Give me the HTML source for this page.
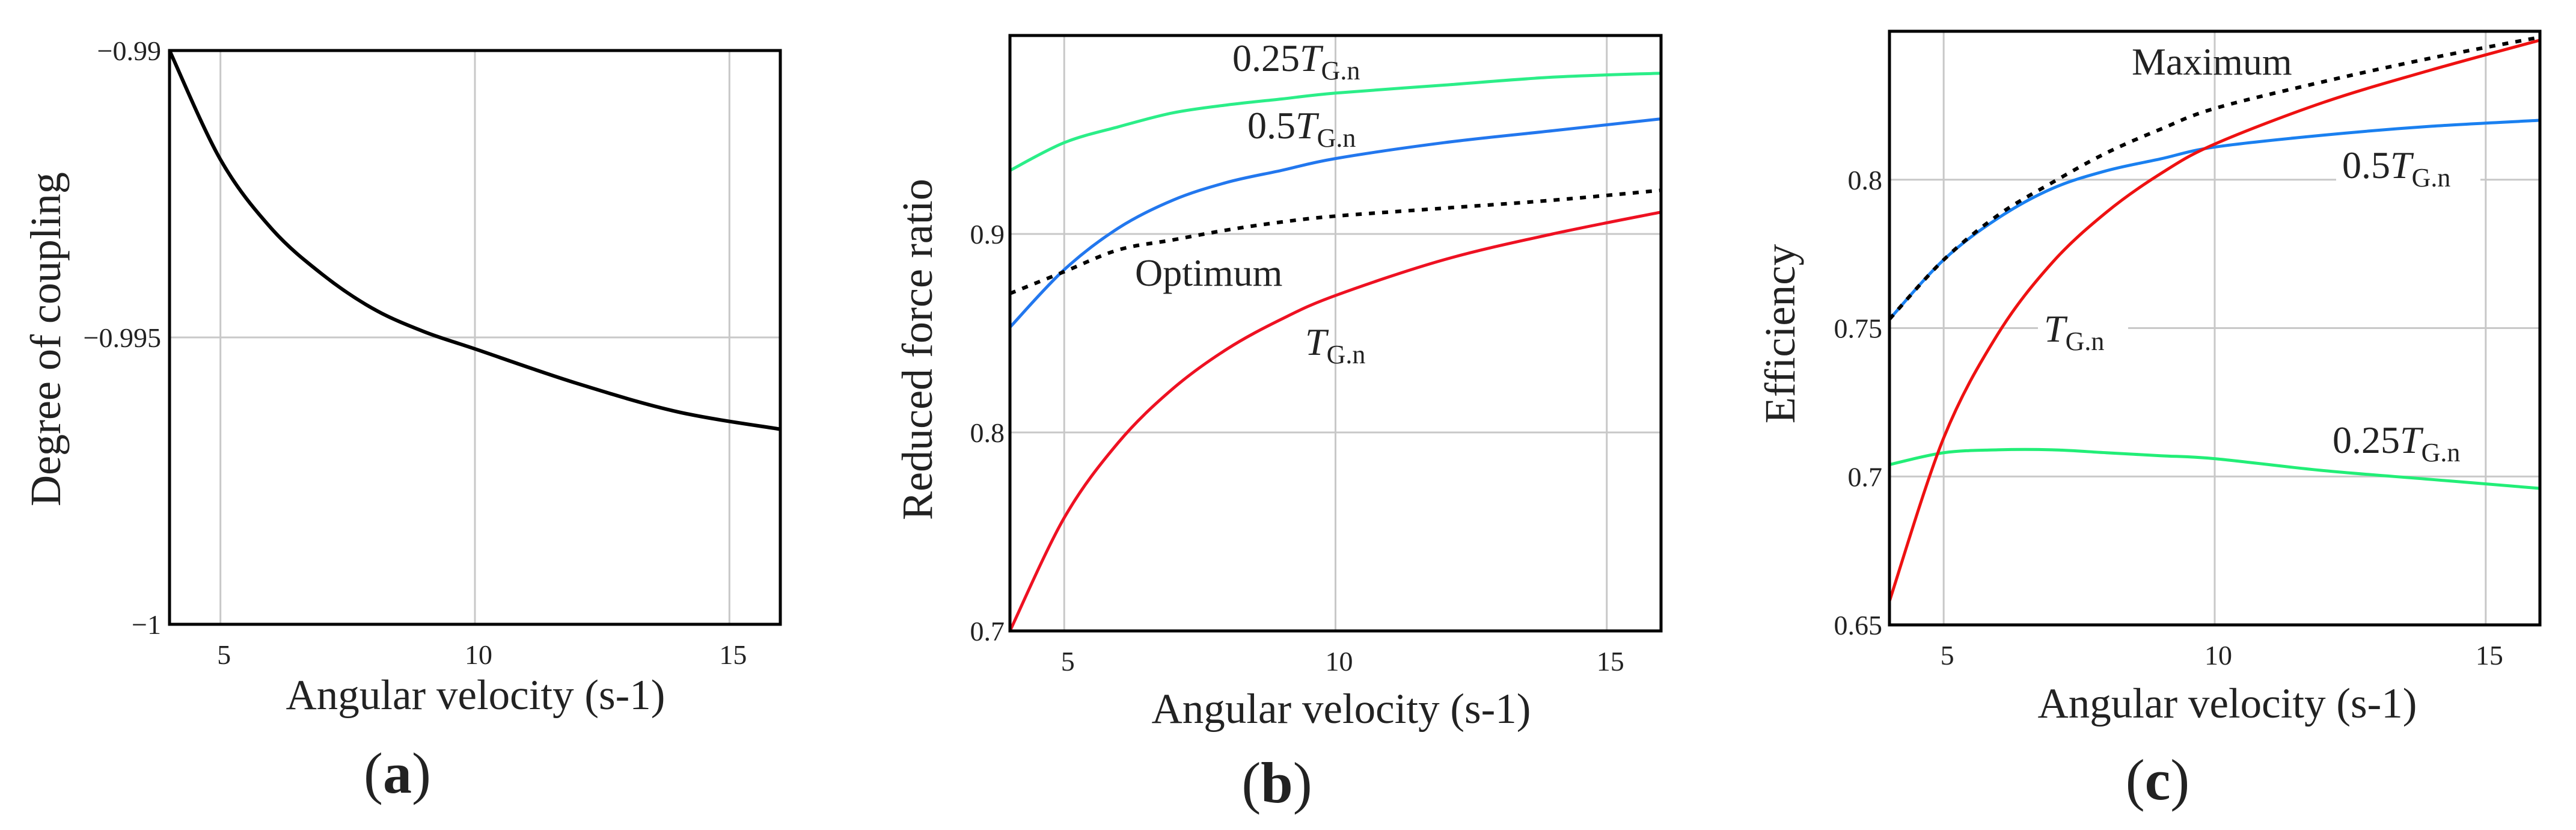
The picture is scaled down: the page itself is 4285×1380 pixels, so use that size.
<!DOCTYPE html>
<html><head><meta charset="utf-8"><style>
html,body{margin:0;padding:0;background:#fff}
svg{display:block}
text{font-family:"Liberation Serif",serif;fill:#222}
</style></head><body>
<svg id="fig" width="4285" height="1380" viewBox="0 0 4285 1380" xmlns="http://www.w3.org/2000/svg"></svg>
<script>
const xs = [4,5,6,7,8,9,10,12,14,16];
const aCoupling = [-0.99,-0.9919,-0.9931,-0.9939,-0.9945,-0.9949,-0.9952,-0.9958,-0.9963,-0.9966];
const bGreen = [0.932,0.946,0.954,0.961,0.965,0.968,0.971,0.975,0.979,0.981];
const bBlue = [0.853,0.882,0.903,0.917,0.926,0.932,0.938,0.946,0.952,0.958];
const bOpt = [0.870,0.881,0.892,0.897,0.902,0.906,0.909,0.913,0.917,0.922];
const bRed = [0.700,0.757,0.795,0.822,0.842,0.857,0.869,0.887,0.900,0.911];
const cRed = [0.658,0.713,0.748,0.772,0.789,0.802,0.812,0.826,0.837,0.847];
const cBlue = [0.753,0.773,0.787,0.797,0.803,0.807,0.811,0.815,0.818,0.820];
const cMax = [0.753,0.773,0.788,0.799,0.809,0.817,0.824,0.833,0.841,0.848];
const cGreen = [0.704,0.708,0.709,0.709,0.708,0.707,0.706,0.702,0.699,0.696];
const xTicks = [5,10,15];
const aYTicks = [-0.99,-0.995,-1];
const aYLabels = ["\u22120.99","\u22120.995","\u22121"];
const bYTicks = [0.7,0.8,0.9];
const bYLabels = ["0.7","0.8","0.9"];
const cYTicks = [0.65,0.7,0.75,0.8];
const cYLabels = ["0.65","0.7","0.75","0.8"];

const NS="http://www.w3.org/2000/svg";
const svg=document.getElementById('fig');
function mk(tag,attrs,parent){const e=document.createElementNS(NS,tag);for(const k in attrs)e.setAttribute(k,attrs[k]);(parent||svg).appendChild(e);return e;}

function panel(p){
  const g=mk('g',{});
  
  
  const X=v=>p.l+(v-4)/12*(p.r-p.l);
  const Y=v=>p.b-(v-p.ymin)/(p.ymax-p.ymin)*(p.b-p.t);
  xTicks.forEach(t=>{
    const ln=mk('line',{x1:X(t),x2:X(t),y1:p.t,y2:p.b,stroke:'#c8c8c8','stroke-width':3},g);
    
    
    const tx=mk('text',{x:X(t)+6,y:p.b+66,'font-size':46,'text-anchor':'middle'},g);
    tx.textContent=t;
    
    
  });
  p.yt.forEach((t,i)=>{
    const ln=mk('line',{x1:p.l,x2:p.r,y1:Y(t),y2:Y(t),stroke:'#c8c8c8','stroke-width':3},g);
    
    
    const tx=mk('text',{x:p.tl,y:Y(t)+16,'font-size':46,'text-anchor':'end'},g);
    tx.textContent=p.yl[i];
    
    
  });
  p.series.forEach(s=>{
    const pts=xs.map((x,i)=>[X(x),Y(s.v[i])]);
    let d='M'+pts[0][0]+','+pts[0][1];
    for(let i=0;i<pts.length-1;i++){
      const p0=pts[Math.max(0,i-1)],p1=pts[i],p2=pts[i+1],p3=pts[Math.min(pts.length-1,i+2)];
      const c1=[p1[0]+(p2[0]-p0[0])/6,p1[1]+(p2[1]-p0[1])/6];
      const c2=[p2[0]-(p3[0]-p1[0])/6,p2[1]-(p3[1]-p1[1])/6];
      d+=' C'+c1+' '+c2+' '+p2;
    }
    const a={d:d,fill:'none',stroke:s.c,'stroke-width':s.w||5};
    if(s.dash)a['stroke-dasharray']='10 12';
    const path=mk('path',a,g);
    
    
  });
  const fr=mk('rect',{x:p.l,y:p.t,width:p.r-p.l,height:p.b-p.t,fill:'none',stroke:'#000','stroke-width':5},g);
  
  
  const xt=mk('text',{x:p.xtx,y:p.xty,'font-size':71,'text-anchor':'middle'},g);
  xt.textContent='Angular velocity (s-1)';
  
  
  const yt=mk('text',{x:0,y:0,'font-size':72,'text-anchor':'middle',transform:'translate('+(p.ytx)+','+p.yty+') rotate(-90)'},g);
  yt.textContent=p.ytitle;
  
  
  const cap=mk('text',{x:p.capx,y:p.capy,'font-size':96,'text-anchor':'middle',fill:'#000'},g);
  cap.innerHTML='(<tspan font-weight="bold">'+p.cap+'</tspan>)';
  
  
  (p.labels||[]).forEach(L=>{
    if(L.bg){mk('rect',{x:L.x-10,y:L.y-56,width:L.w,height:80,fill:'#fff'},g);}
    const t=mk('text',{x:L.x,y:L.y,'font-size':64},g);
    t.innerHTML=(L.pre?L.pre:'')+(L.T?'<tspan font-style="italic">T</tspan><tspan font-size="44" dy="14">G.n</tspan>':'');
    
    
  });
}

panel({name:'panel-a-coupling',l:282,r:1298,t:84,b:1038,ymin:-1,ymax:-0.99,yt:aYTicks,yl:aYLabels,tl:268,
  series:[{v:aCoupling,c:'#000',w:6,n:'coupling-curve'}],ytitle:'Degree of coupling',ytx:100,yty:564,
  xtx:791,xty:1179,cap:'a',capx:661,capy:1318});

panel({name:'panel-b-force-ratio',l:1680,r:2763,t:59,b:1049,ymin:0.7,ymax:1.0,yt:bYTicks,yl:bYLabels,tl:1671,
  series:[{v:bGreen,c:'#2bee88',n:'series-0.25T'},{v:bBlue,c:'#2277ee',n:'series-0.5T'},{v:bOpt,c:'#000',w:6,dash:1,n:'series-optimum'},{v:bRed,c:'#ee1122',n:'series-T'}],
  ytitle:'Reduced force ratio',ytx:1550,yty:581,xtx:2231,xty:1202,cap:'b',capx:2124,capy:1334,
  labels:[{x:2050,y:118,pre:'0.25',T:1,n:'label-0.25T'},{x:2075,y:230,pre:'0.5',T:1,n:'label-0.5T'},{x:1888,y:475,pre:'Optimum',n:'label-optimum'},{x:2171,y:590,pre:'',T:1,n:'label-T'}]});

panel({name:'panel-c-efficiency',l:3143,r:4225,t:52,b:1039,ymin:0.65,ymax:0.85,yt:cYTicks,yl:cYLabels,tl:3131,
  series:[{v:cGreen,c:'#22ee77',n:'series-0.25T'},{v:cBlue,c:'#1a80f0',n:'series-0.5T'},{v:cMax,c:'#000',w:6,dash:1,n:'series-maximum'},{v:cRed,c:'#ee1111',n:'series-T'}],
  ytitle:'Efficiency',ytx:2985,yty:555,xtx:3705,xty:1193,cap:'c',capx:3589,capy:1329,
  labels:[{x:3546,y:124,pre:'Maximum',n:'label-maximum'},{x:3896,y:296,pre:'0.5',T:1,n:'label-0.5T',bg:1,w:240},{x:3400,y:568,pre:'',T:1,n:'label-T',bg:1,w:150},{x:3880,y:753,pre:'0.25',T:1,n:'label-0.25T'}]});
</script>
</body></html>
